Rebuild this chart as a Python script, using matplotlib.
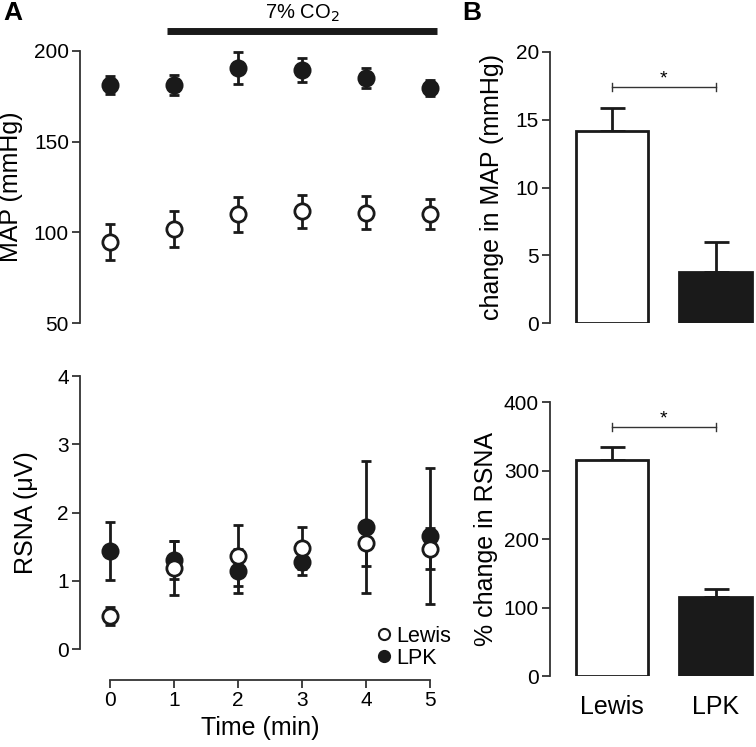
import numpy as np
import matplotlib.pyplot as plt

plt.rcParams['font.family'] = ['Liberation Sans', 'DejaVu Sans']

# --- data ---
time_min = [0, 1, 2, 3, 4, 5]

map_lewis = [94.7, 102.0, 109.9, 111.5, 110.8, 109.9]
map_lewis_err = [9.7, 10.0, 9.5, 9.0, 9.2, 8.3]
map_lpk = [181.3, 181.5, 190.7, 189.4, 185.0, 179.7]
map_lpk_err = [5.0, 5.5, 9.0, 6.7, 5.5, 4.5]

rsna_lewis = [0.49, 1.19, 1.37, 1.48, 1.55, 1.47]
rsna_lewis_err = [0.13, 0.39, 0.45, 0.31, 0.33, 0.30]
rsna_lpk = [1.44, 1.31, 1.15, 1.28, 1.79, 1.66]
rsna_lpk_err = [0.42, 0.28, 0.32, 0.19, 0.97, 1.00]

groups = ['Lewis', 'LPK']
d_map = [14.15, 3.8]
d_map_err = [1.7, 2.15]
d_rsna = [315.0, 116.0]
d_rsna_err = [19.0, 11.0]

W, H = 756, 747
fig = plt.figure(figsize=(W / 100, H / 100), dpi=100)


def px_axes(left, top, right, bottom):
    return fig.add_axes([left / W, 1 - bottom / H, (right - left) / W, (bottom - top) / H])


spine_c = '#333333'


def style(ax):
    for s in ['top', 'right']:
        ax.spines[s].set_visible(False)
    for s in ['left', 'bottom']:
        ax.spines[s].set_color(spine_c)
        ax.spines[s].set_linewidth(1.3)
    ax.tick_params(direction='out', length=6, width=1.3, color=spine_c,
                   labelsize=15, pad=2)


def points(ax, y, yerr, filled):
    ax.errorbar(time_min, y, yerr=yerr, fmt='o', ms=11,
                mfc='#1a1a1a' if filled else 'white', mec='#1a1a1a', mew=2,
                ecolor='#1a1a1a', elinewidth=2, capsize=3.5, capthick=2,
                zorder=3 if filled else 4, clip_on=False)


# --- A top: MAP ---
ax1 = px_axes(80, 51, 440, 323)
style(ax1)
points(ax1, map_lpk, map_lpk_err, True)
points(ax1, map_lewis, map_lewis_err, False)
ax1.set_xlim(-30 / 64, 5 + 10 / 64)
ax1.set_ylim(50, 200)
ax1.set_yticks([50, 100, 150, 200])
ax1.spines['bottom'].set_visible(False)
ax1.set_xticks([])
ax1.set_ylabel('MAP (mmHg)', fontsize=18, labelpad=8)
ax1.plot([0.89, 5.11], [211, 211], color='#1a1a1a', lw=5, solid_capstyle='butt',
         clip_on=False)
ax1.text(3.0, 221, '7% CO$_2$', ha='center', va='center', fontsize=14.5)

# --- A bottom: RSNA ---
ax2 = px_axes(80, 376, 440, 649.3)
style(ax2)
points(ax2, rsna_lpk, rsna_lpk_err, True)
points(ax2, rsna_lewis, rsna_lewis_err, False)
ax2.set_xlim(-30 / 64, 5 + 10 / 64)
ax2.set_ylim(0, 4)
ax2.set_yticks([0, 1, 2, 3, 4])
ax2.set_xticks(time_min)
ax2.spines['bottom'].set_position(('outward', 22))
ax2.spines['bottom'].set_bounds(0, 5)
ax2.set_xlabel('Time (min)', fontsize=18, labelpad=4)
ax2.set_ylabel('RSNA (\u03bcV)', fontsize=18, labelpad=14)
ax2.plot([], [], 'o', ms=8, mfc='white', mec='#1a1a1a', mew=1.5, label='Lewis')
ax2.plot([], [], 'o', ms=8, mfc='#1a1a1a', mec='#1a1a1a', mew=1.5, label='LPK')
ax2.legend(loc='lower right', bbox_to_anchor=(1.06, -0.11), frameon=False,
           fontsize=15.5, handlelength=0.6, handletextpad=0.25, labelspacing=0.05,
           borderpad=0)


# --- B: bar charts ---
def bars(ax, vals, errs, star_y, tick_h):
    x = np.arange(len(groups))
    ax.bar(x, vals, width=0.7, color=['white', '#1a1a1a'], edgecolor='#1a1a1a',
           linewidth=2, zorder=3)
    ax.errorbar(x, vals, yerr=[[0, 0], errs], fmt='none', ecolor='#1a1a1a',
                elinewidth=2, capsize=9, capthick=2, zorder=2)
    ax.plot([0, 1], [star_y, star_y], color='#333333', lw=1)
    ax.plot([0, 0], [star_y - tick_h, star_y + tick_h], color='#333333', lw=1)
    ax.plot([1, 1], [star_y - tick_h, star_y + tick_h], color='#333333', lw=1)
    ax.text(0.5, star_y, '*', ha='center', va='bottom', fontsize=14)
    ax.set_xlim(-0.6, 1.38)
    ax.spines['bottom'].set_visible(False)


ax3 = px_axes(550, 51.7, 755, 323.3)
style(ax3)
bars(ax3, d_map, d_map_err, 17.4, 0.3)
ax3.set_ylim(0, 20)
ax3.set_yticks([0, 5, 10, 15, 20])
ax3.set_xticks([])
ax3.set_ylabel('change in MAP (mmHg)', fontsize=18, labelpad=8)

ax4 = px_axes(550, 402.3, 755, 676)
style(ax4)
bars(ax4, d_rsna, d_rsna_err, 363.6, 6)
ax4.set_ylim(0, 400)
ax4.set_yticks([0, 100, 200, 300, 400])
ax4.set_xticks([0, 1])
ax4.set_xticklabels(groups, fontsize=18)
ax4.tick_params(axis='x', length=0, pad=14)
ax4.set_ylabel('% change in RSNA', fontsize=18, labelpad=4)

fig.text(3 / W, 1 - 13 / H, 'A', fontsize=19, fontweight='bold', va='center')
fig.text(462 / W, 1 - 13 / H, 'B', fontsize=19, fontweight='bold', va='center')

fig.savefig('out.png', dpi=100)
